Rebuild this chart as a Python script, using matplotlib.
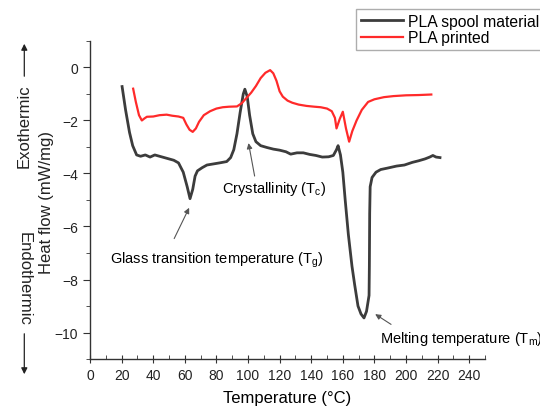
import numpy as np
import matplotlib
matplotlib.use("Agg")
import matplotlib.pyplot as plt
from matplotlib.ticker import MultipleLocator
from matplotlib.patches import FancyArrowPatch

plt.rcParams['font.family'] = ['Liberation Sans', 'DejaVu Sans']
plt.rcParams['mathtext.fontset'] = 'custom'
plt.rcParams['mathtext.rm'] = 'Liberation Sans'
plt.rcParams['mathtext.it'] = 'Liberation Sans'

# DSC curves
spool_T = [20.3, 22.5, 25, 27, 29.5, 32, 35, 38, 41, 44, 47, 50, 53, 56, 59, 61.5,
           63.3, 65, 66.5, 68, 71, 74, 78, 82, 86.5, 89, 91, 93, 95, 97, 98, 99.5,
           101, 103, 105, 108, 112, 116, 120, 124, 127, 131, 135, 139, 143, 147,
           151, 154, 156, 157, 158.5, 160, 161.5, 163.5, 165.8, 167.5, 169.6, 171.5,
           173.4, 175, 176.6, 176.8, 177, 177.3, 178.5, 181, 184, 188, 194, 199,
           204, 208, 212, 215, 217, 219, 221.5]
spool_hf = [-0.72, -1.6, -2.45, -2.95, -3.3, -3.35, -3.3, -3.38, -3.3, -3.35, -3.4,
            -3.45, -3.5, -3.6, -3.95, -4.5, -4.95, -4.6, -4.1, -3.9, -3.78, -3.68,
            -3.64, -3.6, -3.55, -3.4, -3.1, -2.5, -1.7, -1.0, -0.82, -1.1, -1.8,
            -2.5, -2.8, -2.95, -3.02, -3.08, -3.12, -3.18, -3.27, -3.22, -3.22,
            -3.28, -3.32, -3.38, -3.37, -3.32, -3.1, -2.95, -3.3, -3.95, -5.0,
            -6.3, -7.5, -8.2, -9.0, -9.3, -9.45, -9.2, -8.6, -7.5, -5.5, -4.5,
            -4.15, -3.95, -3.85, -3.8, -3.72, -3.68, -3.58, -3.52, -3.45, -3.38,
            -3.32, -3.38, -3.4]

printed_T = [27.3, 29, 31, 32.8, 34.5, 36, 40, 44, 48.5, 52, 56, 59, 61, 63, 65, 67,
             69, 72, 76, 80, 84, 88, 93, 96, 99, 102, 105, 108, 111, 114, 116, 118,
             120, 122, 125, 128, 132, 137, 142, 146, 150, 153, 155, 156, 158, 160,
             162, 164, 166, 168.7, 172, 176, 180, 186, 192, 200, 208, 216]
printed_hf = [-0.8, -1.3, -1.8, -2.0, -1.92, -1.86, -1.85, -1.8, -1.78, -1.82, -1.85,
              -1.9, -2.15, -2.35, -2.43, -2.3, -2.05, -1.8, -1.65, -1.55, -1.5, -1.48,
              -1.47, -1.35, -1.15, -0.95, -0.7, -0.4, -0.2, -0.1, -0.22, -0.5, -0.9,
              -1.1, -1.25, -1.33, -1.4, -1.45, -1.48, -1.5, -1.55, -1.65, -1.9, -2.3,
              -1.95, -1.67, -2.3, -2.8, -2.4, -2.0, -1.6, -1.3, -1.2, -1.12, -1.08,
              -1.05, -1.04, -1.02]

series_names = ["PLA spool material", "PLA printed"]
x_ticks = [0, 20, 40, 60, 80, 100, 120, 140, 160, 180, 200, 220, 240]
y_ticks = [0, -2, -4, -6, -8, -10]

fig = plt.figure(figsize=(5.4, 4.14), dpi=100)
ax = fig.add_axes([0.1667, 0.1304, 0.7315, 0.7682])

ax.plot(spool_T, spool_hf, color="#3c3c3c", lw=2.0, label=series_names[0])
ax.plot(printed_T, printed_hf, color="#ff2a2a", lw=1.6, label=series_names[1])

ax.set_xlim(0, 250)
ax.set_ylim(-11, 1)
ax.spines['top'].set_visible(False)
ax.spines['right'].set_visible(False)
for s in ['left', 'bottom']:
    ax.spines[s].set_color("#333333")
    ax.spines[s].set_linewidth(1.0)

ax.set_xticks(x_ticks)
ax.set_yticks(y_ticks)
ax.set_yticklabels([str(v).replace("-", "\u2212") for v in y_ticks])
ax.xaxis.set_minor_locator(MultipleLocator(10))
ax.yaxis.set_minor_locator(MultipleLocator(1))
ax.tick_params(axis='x', which='major', direction='inout', length=6, labelsize=10, colors="#333333")
ax.tick_params(axis='x', which='minor', direction='in', length=3, colors="#333333")
ax.tick_params(axis='y', which='major', direction='out', length=5, labelsize=10, colors="#333333")
ax.tick_params(axis='y', which='minor', direction='out', length=3, colors="#333333")
ax.tick_params(labelcolor="#222222")

ax.set_xlabel("Temperature (°C)", fontsize=12, labelpad=6)
fig.text(47 / 540, 1 - 203 / 414, "Heat flow (mW/mg)", rotation=90, fontsize=12,
         ha="center", va="center", color="#222222")

arrow = dict(arrowstyle="-|>", color="#555555", lw=0.8, mutation_scale=8)
ax.text(83.5, -4.55, "Crystallinity (T$_\\mathrm{c}$)", fontsize=10.5, va="center", ha="left")
ax.annotate("", xy=(100, -2.75), xytext=(104.5, -4.2), arrowprops=arrow)
ax.text(12.5, -7.25, "Glass transition temperature (T$_\\mathrm{g}$)", fontsize=10.5,
        va="center", ha="left")
ax.annotate("", xy=(63.5, -5.2), xytext=(52.5, -6.55), arrowprops=arrow)
ax.text(183.5, -10.2, "Melting temperature (T$_\\mathrm{m}$)", fontsize=10.5,
        va="center", ha="left", clip_on=False)
ax.annotate("", xy=(179, -9.25), xytext=(192, -9.75), arrowprops=arrow)

# Exothermic / Endothermic markers on the far left
fig.text(0.045, 1 - 126 / 414, "Exothermic", rotation=90, fontsize=12,
         ha="center", va="center", color="#222222")
fig.text(0.045, 1 - 279 / 414, "Endothermic", rotation=-90, fontsize=12,
         ha="center", va="center", color="#222222")
side = dict(arrowstyle="-|>", color="#222222", lw=0.9, mutation_scale=9)
fig.add_artist(FancyArrowPatch((0.045, 1 - 80 / 414), (0.045, 1 - 42 / 414),
                               transform=fig.transFigure, **side))
fig.add_artist(FancyArrowPatch((0.045, 1 - 332 / 414), (0.045, 1 - 378 / 414),
                               transform=fig.transFigure, **side))

leg = fig.legend(loc="upper left", bbox_to_anchor=(0.659, 0.976), fontsize=11.3,
                 frameon=True, fancybox=False, handlelength=2.7, borderaxespad=0,
                 borderpad=0.3, labelspacing=0.1, handletextpad=0.35)
leg.get_frame().set_edgecolor("#999999")
leg.get_frame().set_linewidth(1.0)

fig.savefig("out.png", dpi=100)
